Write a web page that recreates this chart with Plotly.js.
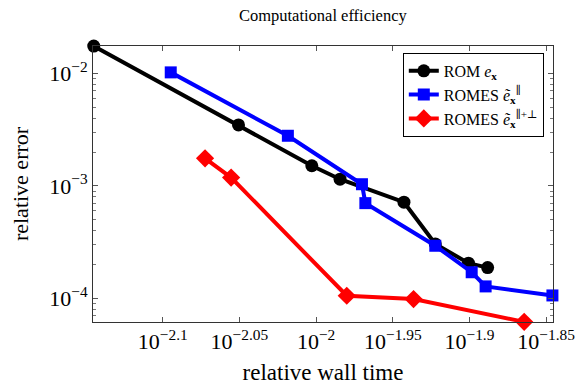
<!DOCTYPE html>
<html>
<head>
<meta charset="utf-8">
<script src="https://cdn.plot.ly/plotly-3.0.1.min.js"></script>
<style>html,body{margin:0;padding:0;background:#fff}#plot{width:587px;height:389px}</style>
</head>
<body>
<div id="plot"></div>
<script>
// Relative wall time (x) and relative error (y) for each method
const romTime    = [0.007161, 0.008900, 0.009936, 0.010366, 0.011410, 0.01196, 0.012571, 0.012938];
const romError   = [0.01746, 0.00348, 0.00151, 0.001147, 0.000717, 0.000305, 0.000206, 0.000188];

const romesParTime  = [0.008039, 0.009585, 0.010713, 0.010768, 0.01196, 0.012632, 0.012899, 0.014260];
const romesParError = [0.0102, 0.00279, 0.001035, 0.000703, 0.000294, 0.000171, 0.000128, 0.0001064];

const romesFullTime  = [0.008464, 0.008802, 0.010471, 0.011576, 0.013668];
const romesFullError = [0.00176, 0.001186, 0.0001057, 0.0000988, 0.0000620];

const xTickExp = ['-2.1', '-2.05', '-2', '-1.95', '-1.9', '-1.85'];
const yTickExp = ['-4', '-3', '-2'];

const serif = '"Liberation Serif", "DejaVu Serif", serif';

const xTickVals = xTickExp.map(e => Math.pow(10, parseFloat(e)));
const xTickText = xTickExp.map(e => '10<sup>\u2212' + e.slice(1) + '</sup>');
const yTickVals = yTickExp.map(e => Math.pow(10, parseFloat(e)));
const yTickText = yTickExp.map(e => '10<sup>\u2212' + e.slice(1) + '</sup>');

const yMinor = [];
for (let d = -5; d <= -2; d++) for (let k = 2; k <= 9; k++) yMinor.push(k * Math.pow(10, d));

const traces = [
  {
    x: romTime, y: romError, mode: 'lines+markers', name: 'ROM <i>e</i><sub><b>x</b></sub>',
    line: {color: '#000', width: 4}, marker: {symbol: 'circle', size: 13, color: '#000'},
    cliponaxis: false
  },
  {
    x: romesParTime, y: romesParError, mode: 'lines+markers', name: 'ROMES <i>ẽ</i><sub><b>x</b></sub><sup>∥</sup>',
    line: {color: '#0000ff', width: 4}, marker: {symbol: 'square', size: 12, color: '#0000ff'},
    cliponaxis: false
  },
  {
    x: romesFullTime, y: romesFullError, mode: 'lines+markers', name: 'ROMES <i>ẽ</i><sub><b>x</b></sub><sup>∥+⊥</sup>',
    line: {color: '#ff0000', width: 4}, marker: {symbol: 'diamond', size: 14, color: '#ff0000'},
    cliponaxis: false
  }
];

const layout = {
  width: 587, height: 389,
  margin: {l: 93, r: 34, t: 46, b: 67},
  paper_bgcolor: '#fff', plot_bgcolor: '#fff',
  font: {family: serif, color: '#000'},
  title: {text: 'Computational efficiency', font: {family: serif, size: 16.5, color: '#000'},
          x: 0.55, xanchor: 'center', y: 0.975, yanchor: 'top'},
  showlegend: true,
  legend: {x: 0.98, y: 0.975, xanchor: 'right', yanchor: 'top',
           bgcolor: '#fff', bordercolor: '#000', borderwidth: 1,
           font: {family: serif, size: 16, color: '#000'}},
  xaxis: {
    type: 'log', range: [-2.1455, -1.8455],
    tickmode: 'array', tickvals: xTickVals, ticktext: xTickText,
    ticks: 'inside', ticklen: 5, tickcolor: '#555', mirror: 'ticks',
    showline: true, linecolor: '#333', linewidth: 1, showgrid: false, zeroline: false,
    tickfont: {family: serif, size: 22, color: '#000'},
    title: {text: 'relative wall time', font: {family: serif, size: 23, color: '#000'}, standoff: 10}
  },
  yaxis: {
    type: 'log', range: [-4.209, -1.757],
    tickmode: 'array', tickvals: yTickVals, ticktext: yTickText,
    ticks: 'inside', ticklen: 5, tickcolor: '#555', mirror: 'ticks',
    minor: {tickmode: 'array', tickvals: yMinor, ticks: 'inside', ticklen: 3, tickcolor: '#777', showgrid: false},
    showline: true, linecolor: '#333', linewidth: 1, showgrid: false, zeroline: false,
    tickfont: {family: serif, size: 22, color: '#000'},
    title: {text: 'relative error', font: {family: serif, size: 22, color: '#000'}, standoff: 14}
  }
};

Plotly.newPlot('plot', traces, layout, {displayModeBar: false, staticPlot: true});
</script>
</body>
</html>
